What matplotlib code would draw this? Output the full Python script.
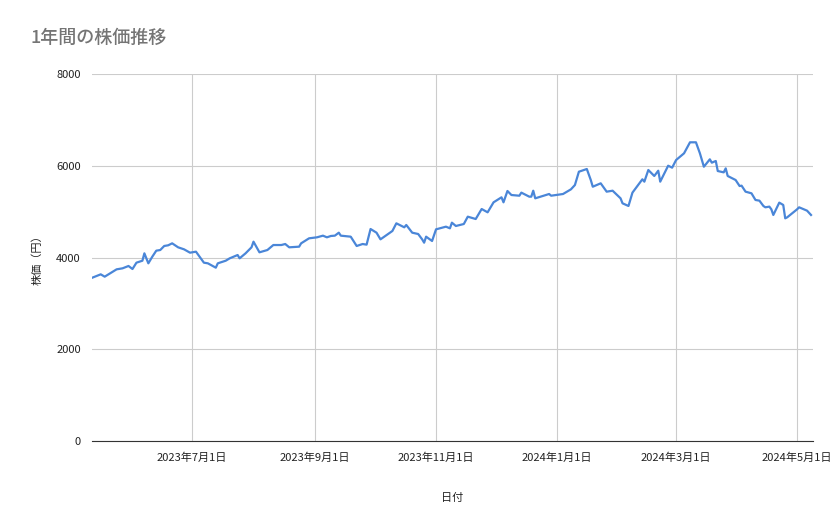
import matplotlib
matplotlib.use("Agg")
import matplotlib.pyplot as plt
import pandas as pd

plt.rcParams['font.family'] = ['Noto Sans CJK JP', 'DejaVu Sans']

# days since 2023-07-01
day_offsets = [-51,-46,-44,-38,-35,-32,-30,-28,-25,-24,-22,-20,-18,-16,-14,-12,-10,-7,-4,-1,
               2,6,8,12,13,17,19,23,24,27,30,31,34,38,41,45,47,49,54,55,59,63,66,68,70,72,74,
               75,80,83,86,88,90,93,95,101,103,107,108,111,114,116,117,118,121,123,128,130,131,
               133,137,139,143,146,149,152,156,157,159,161,165,166,170,171,172,173,180,181,187,
               191,193,195,199,201,202,206,209,212,216,217,220,222,227,228,230,233,235,236,240,
               242,244,248,251,254,256,258,261,262,264,265,268,269,270,274,276,277,279,282,284,
               286,288,289,291,292,293,296,298,299,300,305,306,310,312]
prices = [3547,3633,3582,3742,3764,3815,3749,3887,3930,4091,3873,4018,4149,4163,4251,4266,4309,4222,4178,4105,
          4127,3887,3873,3778,3873,3930,3982,4054,3982,4091,4222,4345,4113,4163,4272,4272,4294,4222,4236,4309,4418,4440,4476,4440,4469,4476,4541,
          4476,4454,4251,4294,4280,4621,4541,4396,4578,4745,4658,4709,4541,4512,4396,4323,4454,4360,4614,4672,4636,4759,
          4687,4730,4890,4839,5057,4985,5203,5312,5203,5450,5362,5347,5414,5326,5326,5456,5290,5384,5347,5384,
          5486,5580,5870,5929,5689,5543,5617,5435,5456,5290,5181,5123,5414,5705,5653,5907,5777,5892,5653,6001,
          5958,6125,6271,6511,6511,6271,5979,6140,6067,6104,5885,5856,5943,5777,5689,5558,5566,5435,5399,5254,
          5239,5123,5094,5109,5051,4927,5196,5145,4854,4876,5051,5094,5021,4927]
tick_dates = ["2023-07-01","2023-09-01","2023-11-01","2024-01-01","2024-03-01","2024-05-01"]
tick_labels = ["2023年7月1日","2023年9月1日","2023年11月1日","2024年1月1日","2024年3月1日","2024年5月1日"]
y_ticks = [0,2000,4000,6000,8000]

dates = pd.Timestamp("2023-07-01") + pd.to_timedelta(day_offsets, unit="D")

fig = plt.figure(figsize=(8.39,5.19), dpi=100)
ax = fig.add_axes([92/839, 78/519, 721/839, 367/519])
ax.plot(dates, prices, color="#4a86d8", lw=1.6)
ax.set_ylim(0,8000)
ax.set_yticks(y_ticks)
ax.set_yticklabels([str(v) for v in y_ticks], fontsize=8, color="#222")
ax.set_xlim(pd.Timestamp("2023-07-01")-pd.Timedelta(days=50.4), pd.Timestamp("2023-07-01")+pd.Timedelta(days=313))
ax.set_xticks(pd.to_datetime(tick_dates))
ax.set_xticklabels(tick_labels, fontsize=8, color="#222")
ax.grid(True, color="#cccccc", lw=0.8)
ax.set_axisbelow(True)
for s in ["top","right","left"]:
    ax.spines[s].set_visible(False)
ax.spines["bottom"].set_color("#333")
ax.tick_params(length=0, pad=8)
ax.set_ylabel("株価（円）", fontsize=8, color="#222", labelpad=10)
ax.set_xlabel("日付", fontsize=8, color="#222", labelpad=22)
fig.text(30/839, 1-38/519, "1年間の株価推移", fontsize=13, color="#757575", fontweight="medium", va="center")
fig.savefig("out.png", dpi=100)
